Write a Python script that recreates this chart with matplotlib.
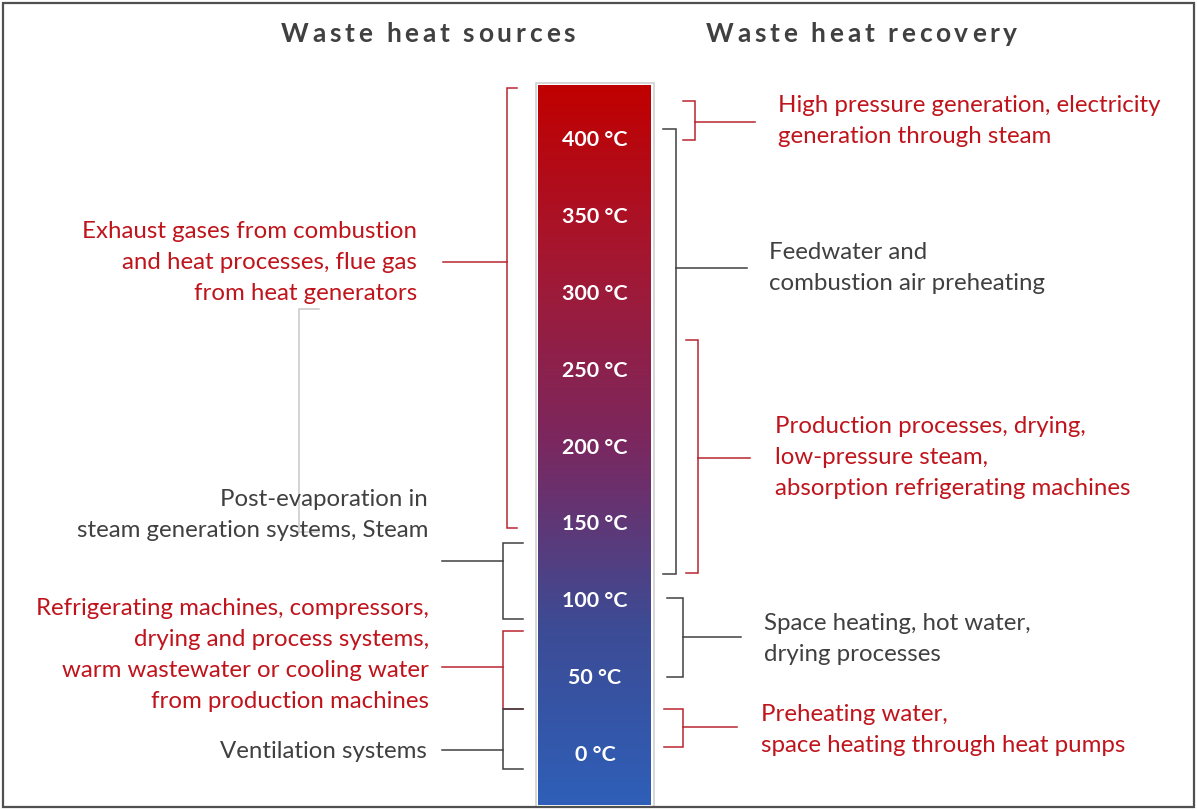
import numpy as np
import matplotlib
matplotlib.use("Agg")
import matplotlib.pyplot as plt
from matplotlib.patches import Rectangle
from matplotlib.colors import LinearSegmentedColormap

# ---------------- data ----------------
temps = [400, 350, 300, 250, 200, 150, 100, 50, 0]
temp_labels = [f"{t} °C" for t in temps]

titles = ["Waste heat sources", "Waste heat recovery"]

left_labels = [
    "Exhaust gases from combustion\nand heat processes, flue gas\nfrom heat generators",
    "Post-evaporation in\nsteam generation systems, Steam",
    "Refrigerating machines, compressors,\ndrying and process systems,\nwarm wastewater or cooling water\nfrom production machines",
    "Ventilation systems",
]
left_ranges = [(146, 432), (86.5, 136), (28, 78.7), (-11, 28)]   # °C span of bracket
left_stem_t = [318.7, 124, 55.3, 1.3]
left_text_t = [318.7, 155, 63.7, 1.3]
left_red = [True, False, True, False]

right_labels = [
    "High pressure generation, electricity\ngeneration through steam",
    "Feedwater and\ncombustion air preheating",
    "Production processes, drying,\nlow-pressure steam,\nabsorption refrigerating machines",
    "Space heating, hot water,\ndrying processes",
    "Preheating water,\nspace heating through heat pumps",
]
right_ranges = [(398, 423.4), (116, 405), (116.4, 268), (48.8, 100), (3.3, 28)]
right_stem_t = [410, 315, 191, 74.8, 16.3]
right_text_t = [411, 315.5, 192, 74, 15]
right_red = [True, False, True, False, True]

faint_range = (143, 288)

# ---------------- style ----------------
RED_TXT = "#C0141C"
RED_LN = "#B82430"
GRAY_TXT = "#404040"
GRAY_LN = "#404040"
FONT = "Lato"
PX_PER_DEG = 1.5375
Y0_PX = 752.0
W, H = 1197, 810
PT = 0.72  # points per pixel

fig = plt.figure(figsize=(W / 100, H / 100), dpi=100)
ax = fig.add_axes([0, 0, 1, 1])
ax.set_xlim(0, W)
ax.set_ylim(-(H - Y0_PX) / PX_PER_DEG, Y0_PX / PX_PER_DEG)
ax.axis("off")

def px2t(ypx):
    return (Y0_PX - ypx) / PX_PER_DEG

# outer border
fig.patches.append(Rectangle((3 / W, 3 / H), 1191 / W, 804 / H, transform=fig.transFigure,
                             fill=False, edgecolor="#505050", linewidth=1.6))

# gradient bar
cmap = LinearSegmentedColormap.from_list(
    "heat", [(0.0, "#2E5FB8"), (0.25, "#3D4B94"), (0.5, "#7A2860"), (0.75, "#A31833"), (1.0, "#C00000")])
grad = np.linspace(0, 1, 256).reshape(-1, 1)
t_bot, t_top = px2t(805), px2t(85)
ax.imshow(grad, aspect="auto", cmap=cmap, origin="lower",
          extent=(538, 651, t_bot, t_top), zorder=1)
ax.add_patch(Rectangle((535.5, px2t(806.5)), 118.5, px2t(82.5) - px2t(806.5),
                       fill=False, edgecolor="#D0D0D0", linewidth=1.2, zorder=2))

for t, lab in zip(temps, temp_labels):
    ax.annotate(lab, xy=(595, t), xytext=(0, -3 * PT), textcoords="offset points",
                ha="center", va="center", color="white",
                fontsize=15.4, fontweight="bold", family=FONT, zorder=3)

def bracket(x, t0, t1, tick_x, stem_t, stem_x, color):
    ax.plot([tick_x, x, x, tick_x], [t0, t0, t1, t1], color=color, lw=1.1,
            solid_joinstyle="miter", zorder=2)
    ax.plot([x, stem_x], [stem_t, stem_t], color=color, lw=1.1, zorder=2)

def multiline(x, t, text, ha, color, fs=17.3, lsp=31):
    lines = text.split("\n")
    n = len(lines)
    for i, ln in enumerate(lines):
        off = ((n - 1) / 2 - i) * lsp * PT - 1 * PT
        ax.annotate(ln, xy=(x, t), xytext=(0, off), textcoords="offset points",
                    ha=ha, va="center", color=color, fontsize=fs, family=FONT)

# left brackets
left_x = [507, 503, 503, 503]
left_tick = [517, 523, 523, 523]
left_stem_x = [443, 442, 442, 442]
left_text_x = [417, 428, 429, 427]
for i in range(len(left_labels)):
    c_ln = RED_LN if left_red[i] else GRAY_LN
    c_tx = RED_TXT if left_red[i] else GRAY_TXT
    t0, t1 = left_ranges[i]
    bracket(left_x[i], t0, t1, left_tick[i], left_stem_t[i], left_stem_x[i], c_ln)
    multiline(left_text_x[i], left_text_t[i], left_labels[i], "right", c_tx)

# faint bracket
ax.plot([319, 299, 299, 319], [faint_range[1], faint_range[1], faint_range[0], faint_range[0]],
        color="#C8C8C8", lw=1.1, zorder=0)

# right brackets
right_x = [695, 676, 698, 683, 683]
right_tick = [683, 663, 686, 667, 664]
right_stem_x = [755, 747, 750, 741, 737]
right_text_x = [778, 769, 775, 764, 761]
for i in range(len(right_labels)):
    c_ln = RED_LN if right_red[i] else GRAY_LN
    c_tx = RED_TXT if right_red[i] else GRAY_TXT
    t0, t1 = right_ranges[i]
    bracket(right_x[i], t0, t1, right_tick[i], right_stem_t[i], right_stem_x[i], c_ln)
    multiline(right_text_x[i], right_text_t[i], right_labels[i], "left", c_tx)

# titles with letter spacing
renderer = fig.canvas.get_renderer()
def spaced_title(text, x0, x1, ypx, fs=19):
    tmp = [ax.text(0, 0, ch if ch != " " else "n", fontsize=fs, fontweight="bold", family=FONT)
           for ch in text]
    widths = []
    for ch, tt in zip(text, tmp):
        bb = tt.get_window_extent(renderer)
        widths.append(bb.width * (0.4 if ch == " " else 1.0))
        tt.remove()
    gap = ((x1 - x0) - sum(widths)) / (len(text) - 1)
    x = x0
    for ch, w in zip(text, widths):
        if ch != " ":
            ax.text(x, px2t(ypx), ch, fontsize=fs, fontweight="bold", family=FONT,
                    color=GRAY_TXT, ha="left", va="center")
        x += w + gap

spaced_title(titles[0], 281, 575, 34)
spaced_title(titles[1], 706, 1017, 34)

fig.savefig("out.png", dpi=100)
